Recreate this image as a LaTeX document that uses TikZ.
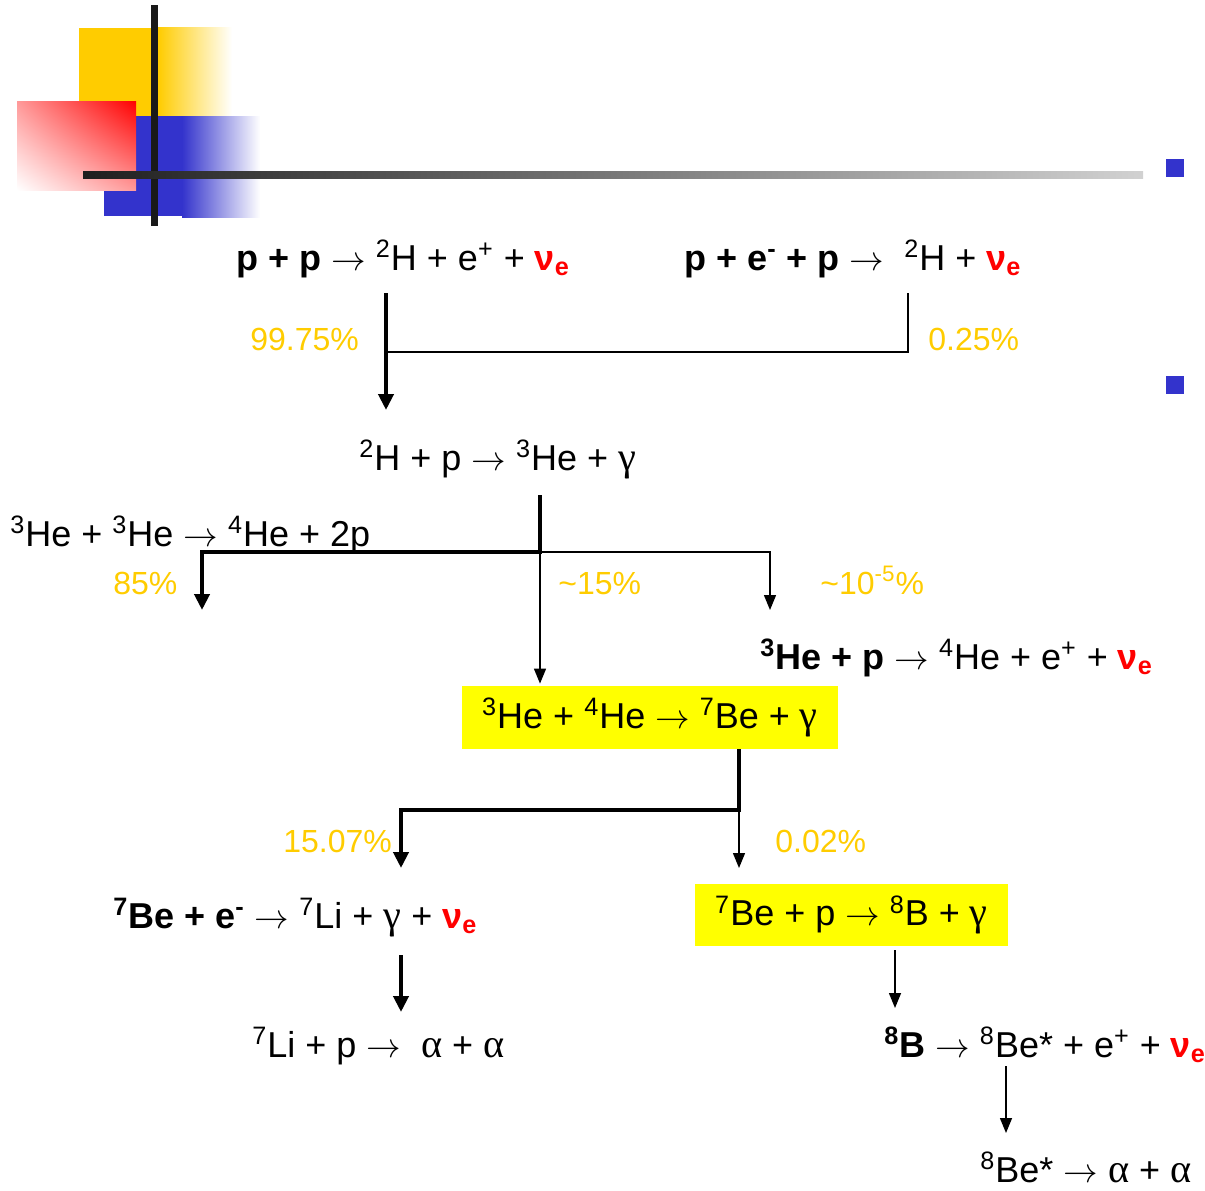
\documentclass[tikz,border=0pt]{standalone}
\usepackage{fontspec}
\setmainfont{Liberation Sans}
\newfontfamily\grk[Scale=1.12]{Liberation Serif}
\usetikzlibrary{arrows.meta,shadings}
\definecolor{pctcol}{HTML}{FFCC00}
\definecolor{decoyellow}{HTML}{FFCC00}
\definecolor{decoblue}{HTML}{3333CC}
\definecolor{boxyellow}{HTML}{FFFF00}
\newcommand\upx[1]{\textsuperscript{#1}}
\newcommand\nue{{\color{red}\bfseries ν\textsubscript{e}}}
\newcommand\ra{$\rightarrow$}
\newcommand\gm{{\grk γ}}
\newcommand\al{{\grk α}}
\tikzset{
  txt/.style={anchor=base west, inner sep=0pt, font=\fontsize{18}{21}\selectfont},
  pct/.style={anchor=base west, inner sep=0pt, font=\fontsize{16}{19}\selectfont, text=pctcol},
  ybox/.style={fill=boxyellow, inner sep=0pt, font=\fontsize{18}{21}\selectfont},
  thk/.style={line width=2pt},
  thn/.style={line width=0.7pt},
  thkarr/.style={thk, -{Triangle[length=8pt, width=7.5pt]}},
  thnarr/.style={thn, -{Triangle[length=7.5pt, width=6pt]}},
}
\begin{document}
\begin{tikzpicture}[x=0.5pt, y=-0.5pt]
\useasboundingbox (0,0) rectangle (1205,1190);
% decoration
\fill[decoyellow] (79,28) rectangle (158,116);
\shade[left color=decoyellow, right color=white] (158,27) rectangle (232,116);
\fill[decoblue] (104,116) rectangle (182,216);
\shade[left color=decoblue, right color=white] (182,116) rectangle (260,217);
\shade[upper right=red, lower left=white, upper left=red!40, lower right=red!40] (17,101) rectangle (136,190);
\fill[black!90] (151,5) rectangle (158,226);
\shade[left color=black!88, right color=black!18] (83,171) rectangle (1143,178);
\fill[decoblue] (1166,159) rectangle (1184,177);
\fill[decoblue] (1166,376) rectangle (1184,394);
% reactions
\node[txt] (pp) at (236,270) {\textbf{p + p} \ra{} \upx{2}H + e\upx{+} + \nue};
\node[txt] (pep) at (684,270) {\textbf{p + e\upx{-} + p} \ra{}~ \upx{2}H + \nue};
\node[txt] (dp) at (359,470) {\upx{2}H + p \ra{} \upx{3}He + \gm};
\node[txt] (hehe) at (10,546) {\upx{3}He + \upx{3}He \ra{} \upx{4}He + 2p};
\node[txt] (hep) at (760,669) {\textbf{\upx{3}He + p} \ra{} \upx{4}He + e\upx{+} + \nue};
\node[ybox, minimum width=188pt, minimum height=31.5pt] (box1) at (650,717.5) {\upx{3}He + \upx{4}He \ra{} \upx{7}Be + \gm};
\node[txt] (bee) at (113,928) {\textbf{\upx{7}Be + e\upx{-}} \ra{} \upx{7}Li + \gm{} + \nue};
\node[ybox, minimum width=156.5pt, minimum height=31pt] (box2) at (851.5,915) {\upx{7}Be + p \ra{} \upx{8}B + \gm};
\node[txt] (lip) at (252,1057) {\upx{7}Li + p \ra{}~ \al{} + \al};
\node[txt] (b8) at (884,1057) {\textbf{\upx{8}B} \ra{} \upx{8}Be* + e\upx{+} + \nue};
\node[txt] (be8) at (980,1182) {\upx{8}Be* \ra{} \al{} + \al};
% percentages
\node[pct] (p1) at (250,350) {99.75\%};
\node[pct] (p2) at (928,350) {0.25\%};
\node[pct] (p3) at (113,594) {85\%};
\node[pct] (p4) at (558,594) {\textasciitilde15\%};
\node[pct] (p5) at (820,594) {\textasciitilde10\upx{-5}\%};
\node[pct] (p6) at (283,852) {15.07\%};
\node[pct] (p7) at (775,852) {0.02\%};
% connector points
\coordinate (a1) at (386,293);
\coordinate (a2) at (386,410);
\coordinate (b1) at (908,293);
\coordinate (b2) at (908,352);
\coordinate (b3) at (386,352);
\coordinate (c1) at (540,495);
\coordinate (c2) at (540,552);
\coordinate (c3) at (202,552);
\coordinate (c4) at (202,610);
\coordinate (d1) at (770,552);
\coordinate (d2) at (770,610);
\coordinate (e1) at (739,810);
\coordinate (e2) at (401,810);
\coordinate (e3) at (401,868);
\coordinate (f1) at (739,868);
\coordinate (g1) at (401,955);
\coordinate (g2) at (401,1012);
\coordinate (h1) at (895,1008);
\coordinate (k1) at (1006,1066);
\coordinate (k2) at (1006,1133);
% connectors
\draw[thkarr] (a1) -- (a2);
\draw[thn] (b1) -- (b2) -- (b3);
\draw[thkarr] (c1) -- (c2) -- (c3) -- (c4);
\draw[thnarr] (c2) -- (d1) -- (d2);
\draw[thnarr] (c2) -- ([yshift=1pt]box1.north -| c2);
\draw[thkarr] (box1.south -| e1) -- (e1) -- (e2) -- (e3);
\draw[thnarr] (e1) -- (f1);
\draw[thkarr] (g1) -- (g2);
\draw[thnarr] ([yshift=-2pt]box2.south -| h1) -- (h1);
\draw[thnarr] (k1) -- (k2);
\end{tikzpicture}
\end{document}
